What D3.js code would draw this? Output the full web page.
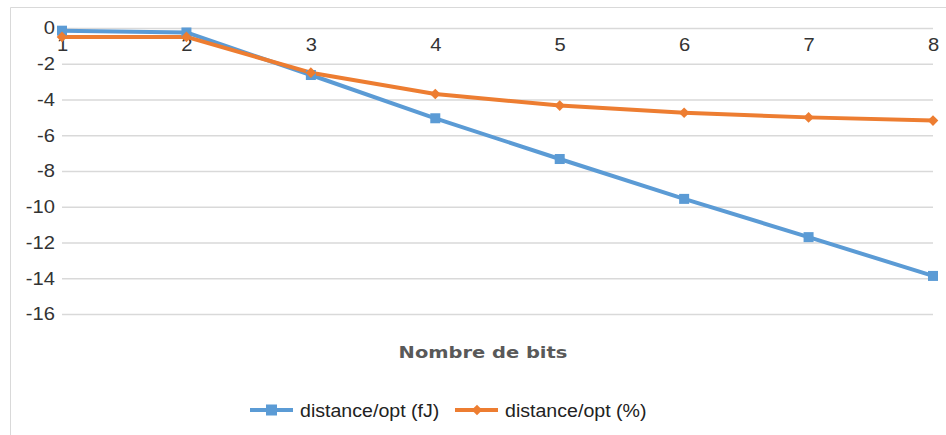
<!DOCTYPE html>
<html>
<head>
<meta charset="utf-8">
<script src="https://cdn.jsdelivr.net/npm/d3@7"></script>
<style>
  html, body { margin: 0; padding: 0; background: #fff; }
  svg { display: block; font-family: "Liberation Sans", Arial, sans-serif; }
</style>
</head>
<body>
<svg id="chart" width="946" height="435"></svg>
<script>
// Number of bits on the horizontal axis
const bits = [1, 2, 3, 4, 5, 6, 7, 8];
// Distance to optimum, absolute (fJ)
const distFJ = [-0.15, -0.25, -2.63, -5.05, -7.33, -9.56, -11.7, -13.87];
// Distance to optimum, relative (%)
const distPct = [-0.5, -0.5, -2.5, -3.69, -4.34, -4.74, -5.0, -5.18];
const yTicks = [0, -2, -4, -6, -8, -10, -12, -14, -16];
const seriesNames = ["distance/opt (fJ)", "distance/opt (%)"];
const seriesColors = ["#5b9bd5", "#ed7d31"];

// the text is set slightly wide
const STRETCH = 1.12;

const svg = d3.select("#chart");

// outer frame
svg.append("path")
  .attr("d", "M10.5,435 V7.5 H946")
  .attr("fill", "none").attr("stroke", "#d9d9d9").attr("stroke-width", 1);

const x = d3.scalePoint().domain(bits).range([62, 933]);
const y = d3.scaleLinear().domain([0, -16]).range([28, 314]);

// horizontal gridlines + y labels
const yAxis = d3.axisLeft(y).tickValues(yTicks).tickSize(-(933 - 62)).tickPadding(7)
  .tickFormat(d => d3.format("d")(d).replace("−", "-"));
const gy = svg.append("g").attr("transform", "translate(62,0)").call(yAxis);
gy.select(".domain").remove();
gy.selectAll(".tick line").attr("stroke", "#d9d9d9").attr("stroke-width", 1.3);
gy.selectAll(".tick text")
  .attr("fill", "#333").attr("font-size", 18)
  .attr("x", null)
  .attr("transform", `translate(-7,0) scale(${STRETCH},1)`);

// x labels sitting just below the zero line
const xAxis = d3.axisBottom(x).tickSize(0).tickPadding(10);
const gx = svg.append("g").attr("transform", `translate(0,${y(0)})`).call(xAxis);
gx.select(".domain").remove();
gx.selectAll(".tick text").attr("fill", "#333").attr("font-size", 18)
  .attr("transform", `scale(${STRETCH},1)`);

// series
const line = d3.line().x((d, i) => x(bits[i])).y(d => y(d));
const data = [distFJ, distPct];

data.forEach((vals, s) => {
  svg.append("path").datum(vals)
    .attr("d", line)
    .attr("fill", "none")
    .attr("stroke", seriesColors[s])
    .attr("stroke-width", 4)
    .attr("stroke-linejoin", "round");
});

// markers: squares for fJ, diamonds for %
svg.append("g").selectAll("rect").data(distFJ).join("rect")
  .attr("x", (d, i) => x(bits[i]) - 5).attr("y", d => y(d) - 5)
  .attr("width", 10).attr("height", 10).attr("fill", seriesColors[0]);

const diamond = d3.symbol().type(d3.symbolDiamond2).size(72);
svg.append("g").selectAll("path").data(distPct).join("path")
  .attr("transform", (d, i) => `translate(${x(bits[i])},${y(d)})`)
  .attr("d", diamond).attr("fill", seriesColors[1]);

// axis title
svg.append("text")
  .attr("transform", `translate(483,358) scale(1.18,1)`)
  .attr("text-anchor", "middle")
  .attr("font-family", "'DejaVu Sans', sans-serif")
  .attr("font-size", 16.5).attr("font-weight", "bold").attr("fill", "#595959")
  .text("Nombre de bits");

// legend
const legendX = [250, 455];
seriesNames.forEach((name, s) => {
  const g = svg.append("g").attr("transform", `translate(${legendX[s]},410)`);
  g.append("line").attr("x1", 0).attr("x2", 43).attr("y1", 0).attr("y2", 0)
    .attr("stroke", seriesColors[s]).attr("stroke-width", 4);
  if (s === 0) {
    g.append("rect").attr("x", 16).attr("y", -5.5).attr("width", 11).attr("height", 11)
      .attr("fill", seriesColors[s]);
  } else {
    g.append("path").attr("transform", "translate(22,0)").attr("d", diamond)
      .attr("fill", seriesColors[s]);
  }
  g.append("text")
    .attr("transform", `translate(50,6.5) scale(${STRETCH},1)`)
    .attr("font-size", 17.5)
    .attr("fill", "#222").text(name);
});
</script>
</body>
</html>
